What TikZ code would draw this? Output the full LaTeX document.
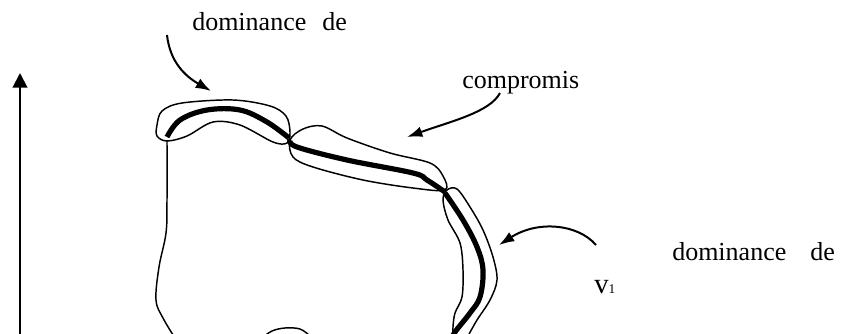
\documentclass[tikz,border=0pt]{standalone}
\usepackage{fontspec}
\setmainfont{Liberation Serif}
\usetikzlibrary{arrows.meta}
\begin{document}
\begin{tikzpicture}[x=0.75pt,y=-0.75pt,
  thinline/.style={line width=1.1pt,line join=round,line cap=round},
  thickline/.style={line width=3.9pt,line join=round,line cap=butt},
  pointer/.style={line width=1.5pt,-{Latex[length=11.5pt,width=8pt]}},
  axisline/.style={line width=1.5pt,-{Triangle[length=11pt,width=11pt]}},
  lbl/.style={font=\fontsize{19.5}{22}\selectfont,inner sep=0pt,anchor=base west}]
\useasboundingbox (0,0) rectangle (847,333);
\clip (0,0) rectangle (847,333);

% axis
\coordinate (axbot) at (20,340);
\coordinate (axtop) at (20,73);
\draw[axisline] (axbot) -- (axtop);

% labels
\node[lbl] (domtop) at (192,30) {dominance\hspace{12pt}de};
\node[lbl] (comp) at (462,88) {compromis};
\node[lbl] (domright) at (672,260) {dominance\hspace{18pt}de};
\node[lbl,font=\fontsize{21.5}{24}\selectfont] (vone) at (594,293) {v{\fontsize{10}{10}\selectfont 1}};

% pointer arrows
\coordinate (a1s) at (167,35);  \coordinate (a1e) at (211,91);
\coordinate (a2s) at (500,93);  \coordinate (a2e) at (407,137);
\coordinate (a3s) at (596,245); \coordinate (a3e) at (499,245);
\draw[pointer] (a1s) .. controls (170,62) and (185,76) .. (a1e);
\draw[pointer] (a2s) .. controls (490,112) and (452,121) .. (a2e);
\draw[pointer] (a3s) .. controls (578,224) and (538,220) .. (a3e);

% enclosure 1
\draw[thinline] plot[smooth cycle,tension=0.55] coordinates {
  (157,125) (162,111) (182,103) (233,100) (270,106) (286,116) (290,132)
  (287,143) (273,142) (240,125) (213,122) (187,136) (167,141) (157,136)};
\draw[thickline] plot[smooth,tension=0.6] coordinates {
  (167,137) (180,120) (207,110) (240,110) (267,122) (289,138)};

% enclosure 2
\draw[thinline] plot[smooth cycle,tension=0.55] coordinates {
  (290,140) (303,129) (322,126) (347,138) (390,153) (430,163) (443,176)
  (445,190) (413,188) (363,180) (313,167) (293,157)};
\draw[thickline] plot[smooth,tension=0.6] coordinates {
  (290,140) (297,147) (347,160) (413,173) (427,180) (445,192)};

% enclosure 3 (continues below the frame)
\draw[thinline] plot[smooth,tension=0.55] coordinates {
  (453,340) (453,327) (455,313) (462,297) (463,270) (460,243) (448,220)
  (443,200) (447,190) (457,189) (470,207) (483,230) (493,257) (497,280)
  (490,300) (477,320) (468,336)};
\draw[thickline] plot[smooth,tension=0.6] coordinates {
  (445,193) (463,220) (477,247) (483,270) (480,297) (470,313) (455,332) (451,340)};

% left outline of the region
\draw[thinline] plot[smooth,tension=0.6] coordinates {
  (167,141) (167,200) (166,233) (159,267) (156,300) (163,318) (175,338)};
% small bump at the bottom
\draw[thinline] plot[smooth,tension=0.6] coordinates {
  (262,338) (272,331) (285,328) (300,329) (310,336)};
\end{tikzpicture}
\end{document}
